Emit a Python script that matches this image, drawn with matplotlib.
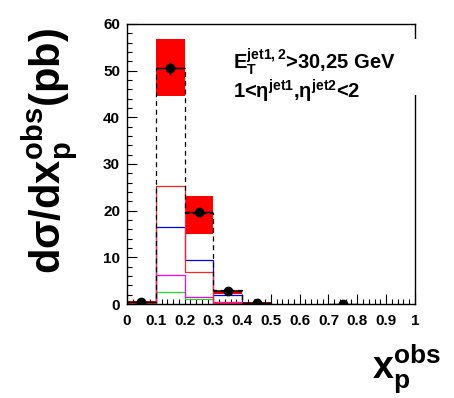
import matplotlib.pyplot as plt
import numpy as np
from matplotlib.patches import Rectangle
from matplotlib.ticker import MultipleLocator

plt.rcParams['font.family'] = ['Liberation Sans', 'DejaVu Sans']
plt.rcParams['mathtext.fontset'] = 'custom'
plt.rcParams['mathtext.rm'] = 'Liberation Sans:bold'
plt.rcParams['mathtext.it'] = 'Liberation Sans:bold'
plt.rcParams['mathtext.bf'] = 'Liberation Sans:bold'
plt.rcParams['mathtext.default'] = 'bf'

# bins in x_p^obs
edges = [0.0, 0.1, 0.2, 0.3, 0.4, 0.5]

# data points (bin centres, cross section, stat error)
data_x = [0.05, 0.15, 0.25, 0.35, 0.45, 0.75]
data_y = [0.5, 50.5, 19.8, 2.8, 0.3, 0.0]
data_err = [0.2, 1.4, 0.6, 0.3, 0.1, 0.0]

# systematic band (low, high) per bin
band_lo = [0.3, 44.5, 15.0, 2.1, 0.2]
band_hi = [0.7, 56.8, 23.1, 3.1, 0.4]

# MC predictions
mc_total = [0.5, 50.5, 19.4, 3.0, 0.3]
mc_red = [0.3, 25.2, 6.9, 0.5, 0.05]
mc_blue = [0.2, 16.4, 9.4, 1.9, 0.2]
mc_magenta = [0.2, 6.2, 1.5, 0.2, 0.05]
mc_green = [0.1, 2.6, 1.1, 0.1, 0.02]

fig = plt.figure(figsize=(4.54, 3.98), dpi=100)
ax = fig.add_axes([0.2797, 0.236, 0.634, 0.704])

# systematic uncertainty boxes
for i in range(len(band_lo)):
    ax.fill_between([edges[i], edges[i + 1]], band_lo[i], band_hi[i],
                    color='#ff0000', lw=0, zorder=1)

ax.stairs(mc_green, edges, color='#22dd22', lw=0.9, zorder=2)
ax.stairs(mc_magenta, edges, color='#ff00ff', lw=0.9, zorder=2)
ax.stairs(mc_blue, edges, color='#0000ff', lw=0.9, zorder=2)
ax.stairs(mc_red, edges, color='#ff2222', lw=0.9, zorder=2)
ax.stairs(mc_total, edges, color='black', lw=0.9, ls=(0, (4, 3)), zorder=3)

ax.errorbar(data_x, data_y, yerr=data_err, xerr=0.05, fmt='o', color='black',
            ms=6, elinewidth=1.0, capsize=0, zorder=4)

ax.set_xlim(0, 1)
ax.set_ylim(0, 60)
ax.xaxis.set_major_locator(MultipleLocator(0.1))
ax.xaxis.set_minor_locator(MultipleLocator(0.02))
ax.yaxis.set_major_locator(MultipleLocator(10))
ax.yaxis.set_minor_locator(MultipleLocator(2))
ax.set_xticks(np.arange(0, 1.01, 0.1))
ax.set_xticklabels(['0', '0.1', '0.2', '0.3', '0.4', '0.5', '0.6', '0.7', '0.8', '0.9', '1'])
ax.tick_params(which='both', direction='in', top=False, right=False,
               labelsize=11, width=0.8)
ax.tick_params(which='major', length=7, pad=7)
ax.tick_params(which='minor', length=3.5)
ax.tick_params(axis='y', which='major', pad=5)
for lab in ax.get_xticklabels() + ax.get_yticklabels():
    lab.set_fontweight('bold')
for sp in ax.spines.values():
    sp.set_linewidth(1.0)

# white pave behind the label text
ax.add_patch(Rectangle((0.3, 0.745), 0.71, 0.2, transform=ax.transAxes,
                       facecolor='white', edgecolor='none', clip_on=False, zorder=5))
ax.text(0.37, 0.865, r'$E_T^{jet1,2}$>30,25 GeV', transform=ax.transAxes,
        fontsize=14.5, fontweight='bold', va='center', ha='left', zorder=6)
ax.text(0.37, 0.76, r'1<$\eta^{jet1}$,$\eta^{jet2}$<2', transform=ax.transAxes,
        fontsize=14.5, fontweight='bold', va='center', ha='left', zorder=6)

fig.text(0.11, 0.62, r'd$\sigma$/dx$_p^{obs}$(pb)', rotation=90,
         fontsize=30, fontweight='bold', ha='center', va='center')
fig.text(0.97, 0.005, r'x$_p^{obs}$', fontsize=27, fontweight='bold',
         ha='right', va='bottom')

fig.savefig('out.png', dpi=100)
